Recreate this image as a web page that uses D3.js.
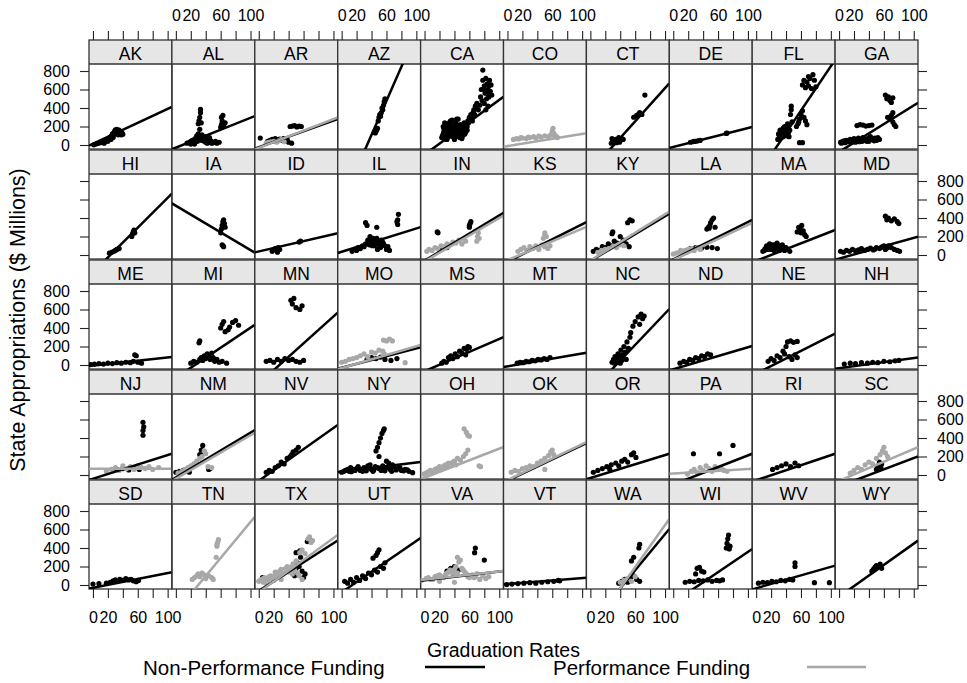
<!DOCTYPE html>
<html><head><meta charset="utf-8">
<script src="https://cdn.jsdelivr.net/npm/d3@7"></script>
<style>body{margin:0;background:#fff}text{font-family:"Liberation Sans",Arial,sans-serif;fill:#000}</style>
</head><body><svg id="c" width="967" height="683"></svg>
<script>
const states = ["AK","AL","AR","AZ","CA","CO","CT","DE","FL","GA",
"HI","IA","ID","IL","IN","KS","KY","LA","MA","MD",
"ME","MI","MN","MO","MS","MT","NC","ND","NE","NH",
"NJ","NM","NV","NY","OH","OK","OR","PA","RI","SC",
"SD","TN","TX","UT","VA","VT","WA","WI","WV","WY"];
const xTicks = [0,20,40,60,80,100];
const xTickLabels = [0,20,60,100];
const yTicks = [0,200,400,600,800];
const xTitle = "Graduation Rates";
const yTitle = "State Appropriations ($ Millions)";
const legendLabels = ["Non-Performance Funding","Performance Funding"];

// regression lines [intercept, slope]
const nonPerfLines = {AK:[13,3.77],AL:[-29,3.23],AR:[-25,2.9],AZ:[-626,18.4],CA:[-104,5.92],CT:[-283,8.98],DE:[-21,2.04],FL:[-348,12.0],GA:[-75,5.03],
HI:[-187,8.04],IA:[533,-4.8],ID:[38,1.86],IL:[35,2.52],IN:[-62,4.91],KS:[-74,4.07],KY:[-65,4.84],LA:[-48,4.05],MA:[-63,3.15],MD:[-39,2.25],
ME:[-6,0.87],MI:[-138,5.42],MN:[-201,7.25],MO:[-30,2.1],MS:[-67,3.49],MT:[-15,1.4],NC:[-292,8.49],ND:[-46,2.38],NE:[-93,4.08],NH:[-34,1.08],
NJ:[-40,2.56],NM:[-27,4.85],NV:[-63,5.71],NY:[37,0.97],OK:[-62,3.85],OR:[-33,2.49],PA:[-103,3.15],RI:[-57,2.71],SC:[-122,3.05],
SD:[-30,1.58],TX:[-64,5.15],UT:[-79,5.56],VA:[50,0.95],VT:[11,0.64],WA:[-426,9.76],WI:[-190,5.48],WV:[-35,2.31],WY:[-127,5.74]};
const perfLines = {AR:[-30,3.1],CO:[-11,1.3],IN:[-70,4.7],KS:[-56,3.4],KY:[-60,5.0],LA:[-55,3.8],MO:[-34,2.36],NJ:[68,0],NM:[-40,4.7],
OH:[-29,3.14],OK:[-55,3.88],PA:[17,0.49],SC:[-63,3.44],TN:[-292,9.74],TX:[-80,5.88],VA:[59,0.87],WA:[-490,11.38]};

const nonPerfPoints = {
AK:[[1,2],[4,10],[7,18],[10,25],[13,30],[16,40],[19,55],[21,70],[23,85],[25,100],[26,120],[27,95],[28,135],[29,150],[30,165],[31,140],[32,170],[33,155],[34,130],[35,160],[36,145],[37,125],[38,110],[39,130],[40,115],[24,60],[20,40],[15,20],[30,120],[34,110],[27,80]],
AL:[[15,20],[18,30],[20,40],[22,50],[25,60],[27,80],[28,100],[30,120],[31,90],[33,70],[35,50],[38,40],[40,30],[42,20],[45,30],[48,20],[50,25],[52,30],[55,20],[58,30],[30,230],[31,260],[32,300],[33,350],[33,385],[34,240],[32,170],[60,190],[61,220],[62,260],[61,300],[63,320],[64,210],[66,240],[35,110],[25,10],[20,10],[45,80],[40,90],[37,60],[43,50],[29,40],[47,45],[53,40]],
AR:[[2,75],[12,40],[15,50],[18,60],[20,45],[22,70],[25,55],[28,65],[30,50],[33,70],[35,40],[38,60],[40,30],[44,20],[42,200],[45,205],[48,210],[51,195],[54,205],[57,200]],
AZ:[[44,140],[45,130],[46,150],[47,165],[48,180],[50,300],[51,330],[52,310],[53,350],[54,400],[55,380],[56,430],[57,470],[58,500],[49,260]],
CA:[[23,80],[25,120],[26,150],[27,90],[28,200],[29,170],[30,110],[31,140],[32,180],[33,220],[34,100],[35,160],[36,130],[37,200],[38,90],[39,150],[40,180],[41,120],[42,240],[43,160],[44,100],[45,140],[46,190],[47,120],[48,160],[49,90],[50,130],[51,170],[52,110],[53,150],[54,200],[55,180],[56,230],[57,200],[58,260],[59,240],[60,300],[61,280],[62,330],[63,310],[64,260],[65,350],[66,380],[67,330],[68,420],[69,400],[70,450],[72,380],[74,430],[75,520],[76,600],[77,480],[78,700],[78,810],[80,640],[81,560],[82,720],[83,500],[84,660],[85,600],[86,520],[87,700],[88,580],[89,650],[90,540],[85,420],[82,380],[80,450],[30,60],[40,60],[50,70],[35,260],[45,280],
 [24,100],[26,180],[28,130],[30,200],[32,90],[34,250],[36,110],[38,170],[40,220],[42,130],[44,190],[46,100],[48,220],[50,150],[52,190],[54,120],[27,240],[33,140],[39,120],[45,210],[51,100],[55,140],[37,270],[43,280],[29,60],[47,80],[25,200],[31,230],[41,90],[53,240],[57,160],[79,600],[84,560],[86,640]],
CT:[[28,20],[30,40],[32,30],[34,60],[36,50],[38,80],[40,45],[42,70],[44,60],[35,25],[29,70],[33,45],[39,30],[58,300],[62,320],[64,330],[66,350],[69,330],[73,540]],
DE:[[23,30],[26,35],[28,40],[30,40],[33,45],[36,50],[71,125],[72,130]],
FL:[[29,60],[31,100],[33,140],[34,80],[36,180],[37,120],[38,200],[39,150],[40,100],[41,170],[42,230],[43,130],[44,90],[45,160],[46,330],[47,380],[47,420],[48,250],[54,200],[56,230],[58,280],[60,330],[62,370],[64,300],[66,260],[68,220],[58,25],[62,25],[62,650],[64,700],[66,620],[68,680],[70,640],[72,720],[74,610],[76,760],[78,700],[80,630],[70,740],[30,120],[32,160],[35,110],[38,170],[41,140],[43,190],[36,90],[57,250],[61,300]],
GA:[[2,30],[5,40],[8,25],[10,50],[12,35],[15,60],[18,40],[20,70],[22,30],[25,55],[28,45],[30,65],[32,80],[35,50],[38,70],[40,40],[42,90],[45,60],[48,75],[50,50],[52,80],[54,60],[24,210],[28,220],[32,215],[36,205],[40,210],[44,215],[62,540],[64,500],[66,520],[68,480],[70,460],[72,510],[65,300],[68,280],[70,320],[72,250],[74,220],[76,200],[72,350],
 [3,20],[7,45],[13,50],[17,30],[23,60],[27,35],[33,60],[37,40],[43,70],[47,45],[53,65],[26,75],[31,40],[41,55]],
HI:[[22,20],[25,30],[28,40],[30,50],[32,60],[35,70],[52,200],[53,230],[54,250],[55,270],[56,240]],
IA:[[60,240],[61,280],[62,320],[63,360],[64,380],[65,340],[66,300],[62,110],[63,100],[64,90]],
ID:[[18,40],[20,60],[22,70],[24,50],[26,80],[28,60],[25,30],[54,140],[56,150]],
IL:[[14,40],[18,60],[20,50],[22,80],[25,70],[28,100],[30,90],[32,120],[35,160],[37,110],[38,200],[40,140],[42,180],[44,100],[46,150],[48,60],[50,120],[52,80],[55,140],[58,100],[60,60],[62,90],[64,50],[32,350],[34,320],[47,300],[75,330],[75,380],[76,440],[74,360],
 [36,130],[39,170],[41,100],[43,160],[45,120],[47,180],[49,140],[51,100],[53,160],[56,120]],
IN:[[17,250],[18,240],[60,300],[61,340],[62,360],[60,320],[20,60],[30,80]],
KY:[[4,40],[8,60],[12,50],[16,90],[20,80],[24,120],[28,100],[32,150],[36,130],[40,200],[44,160],[48,120],[52,90],[50,350],[53,380],[56,370],[29,230],[30,250]],
LA:[[23,70],[30,80],[38,75],[45,85],[52,80],[59,70],[45,280],[47,300],[49,320],[50,350],[52,380],[54,400],[56,300],[48,290]],
MA:[[9,40],[12,70],[14,100],[16,60],[18,120],[20,80],[22,110],[24,50],[26,90],[28,130],[30,70],[32,100],[34,60],[36,90],[38,50],[40,80],[42,60],[45,40],[55,250],[57,300],[59,280],[61,320],[63,260],[65,220],[67,200],[60,240],
 [11,50],[15,80],[19,90],[21,60],[25,110],[27,70],[29,100],[31,50],[33,80],[35,110]],
MD:[[2,40],[6,30],[10,50],[14,40],[18,60],[22,45],[26,55],[30,70],[34,50],[38,60],[42,75],[46,55],[50,80],[54,70],[58,90],[62,60],[66,100],[70,80],[74,60],[78,50],[81,40],[62,420],[64,380],[66,400],[70,370],[74,390],[78,360],[80,340],[48,65],[56,80],[60,100],[64,75],[68,90]],
ME:[[-3,5],[2,10],[8,15],[14,10],[20,20],[26,15],[32,25],[38,20],[44,30],[50,25],[54,40],[56,110],[58,100],[60,30],[65,20]],
MI:[[20,20],[24,40],[28,30],[32,60],[34,80],[36,50],[38,100],[40,70],[42,120],[44,90],[46,60],[48,130],[50,80],[52,40],[55,60],[58,30],[62,40],[68,20],[31,240],[32,260],[60,400],[62,440],[64,470],[70,380],[72,410],[76,460],[80,480],[84,430],[66,360]],
MN:[[10,40],[15,50],[20,30],[25,60],[30,40],[35,70],[40,50],[45,60],[50,40],[55,30],[60,50],[43,700],[45,660],[50,620],[55,600],[58,640],[47,720]],
MO:[[34,60],[40,80],[46,70],[52,86],[58,60],[66,50],[74,70]],
MS:[[23,20],[26,40],[29,30],[32,80],[35,100],[38,70],[41,120],[44,90],[47,150],[50,130],[53,180],[56,170],[58,200],[60,190],[55,110]],
MT:[[13,20],[17,30],[21,25],[25,40],[29,35],[33,50],[37,45],[41,60],[45,55],[49,70],[53,60],[57,80]],
NC:[[29,30],[31,60],[33,90],[35,40],[37,120],[39,80],[41,160],[43,110],[45,200],[47,140],[49,250],[51,180],[53,300],[54,350],[48,60],[40,20],[57,420],[60,470],[64,520],[68,550],[70,500],[72,530],[66,440],[32,20],[36,70],[42,50]],
ND:[[9,20],[14,40],[18,30],[22,60],[26,50],[30,80],[34,70],[38,100],[42,90],[46,120],[50,110]],
NE:[[16,40],[20,70],[24,50],[28,100],[32,80],[36,150],[38,120],[40,200],[44,90],[48,60],[52,110],[55,80],[42,250],[46,260],[50,245],[55,255]],
NH:[[7,10],[15,20],[22,15],[30,25],[38,20],[45,30],[52,25],[60,40],[68,35],[75,45],[80,50]],
NJ:[[32,60],[40,70],[48,55],[56,75],[62,60],[67,430],[67,480],[68,520],[67,570]],
NM:[[0,30],[5,40],[10,50],[15,45],[18,30],[32,220],[34,270],[36,320],[38,250],[44,60],[46,70]],
NV:[[10,30],[14,50],[18,40],[22,80],[26,100],[30,140],[34,120],[38,180],[42,200],[46,250],[50,270],[53,300],[44,220]],
NY:[[0,30],[5,50],[10,40],[15,60],[20,70],[25,50],[30,80],[35,100],[40,60],[45,90],[50,70],[55,100],[60,80],[65,60],[70,90],[75,70],[80,50],[85,60],[90,40],[95,25],[46,260],[48,300],[50,350],[52,400],[54,450],[56,480],[57,500],[50,200],[60,150],[63,130],[12,80],[22,90],[38,110],[68,110],[28,40],[42,40],[58,45],
 [3,40],[8,60],[13,35],[18,50],[23,70],[27,60],[33,45],[37,80],[43,55],[48,80],[53,50],[58,70],[63,90],[67,40],[73,55],[78,80],[83,45],[88,55]],
OR:[[4,30],[10,50],[16,70],[22,90],[28,110],[34,130],[38,100],[42,150],[46,170],[50,140],[55,220],[58,240],[61,190],[26,60]],
PA:[[27,230],[62,230],[80,320]],
RI:[[22,60],[28,80],[34,100],[40,120],[46,90],[52,130],[57,100]],
SC:[[50,60],[52,100],[54,140],[56,80],[57,120]],
SD:[[0,10],[8,15],[18,20],[23,30],[27,45],[30,55],[33,40],[36,60],[40,50],[44,70],[48,55],[51,60],[54,45],[58,35],[61,50]],
TX:[[5,80],[48,100],[50,180],[52,240],[54,200],[56,300],[58,150],[60,80],[62,120],[50,350],[55,370],[65,470],[68,500],[70,480]],
UT:[[4,40],[8,20],[12,60],[16,30],[20,80],[24,50],[28,100],[32,70],[36,130],[40,110],[44,160],[48,140],[52,200],[56,180],[58,240],[42,290],[46,320],[50,380],[48,350]],
VA:[[30,150],[35,180],[40,200],[45,160],[67,350],[68,400],[80,270]],
VT:[[-1,5],[6,10],[14,15],[22,20],[30,25],[38,20],[46,30],[54,35],[62,40],[68,50],[70,45]],
WA:[[38,20],[42,40],[46,60],[50,30],[54,80],[58,100],[62,60],[66,40],[55,260],[58,300],[65,400],[66,440]],
WI:[[16,30],[22,40],[28,35],[34,50],[40,45],[46,55],[52,40],[58,50],[62,45],[66,55],[30,120],[32,180],[35,190],[38,150],[41,140],[71,400],[72,450],[73,500],[74,540],[76,420],[75,390]],
WV:[[3,20],[9,30],[15,25],[21,40],[27,35],[33,50],[39,45],[45,60],[49,55],[52,200],[52,240],[78,25],[98,25]],
WY:[[44,150],[46,170],[48,190],[50,210],[52,200],[55,225],[57,180]]
};
const perfPoints = {
AR:[[10,20],[13,30],[16,35],[20,40],[24,30],[27,45],[30,60],[34,35]],
CO:[[8,60],[12,70],[15,65],[18,80],[20,75],[25,70],[28,85],[30,80],[35,90],[38,75],[42,95],[45,85],[50,100],[55,90],[58,110],[60,150],[61,180],[62,130],[63,100],[65,95],[67,80]],
IN:[[3,40],[6,60],[10,50],[14,80],[18,70],[22,100],[26,90],[30,120],[34,110],[38,140],[42,130],[46,160],[50,120],[55,150],[70,150],[71,200],[72,240],[73,180]],
KS:[[14,40],[18,60],[22,80],[26,50],[30,90],[34,70],[38,100],[42,60],[46,110],[50,90],[54,70],[57,100],[48,180],[50,220],[52,200],[50,240]],
KY:[[10,30],[15,50],[20,60],[25,70],[30,90],[35,80],[40,110],[45,100]],
LA:[[0,10],[4,20],[8,30],[12,40],[16,50],[20,60],[24,70],[28,50],[32,80],[36,60],[10,50],[18,30]],
MO:[[0,30],[5,40],[10,60],[15,70],[20,80],[25,100],[30,120],[35,90],[40,140],[45,130],[50,160],[55,150],[57,120],[56,270],[60,260],[64,280],[68,260],[85,25]],
NJ:[[18,40],[25,60],[30,80],[35,50],[40,100],[45,70],[50,90],[55,60],[60,100],[65,80],[70,70],[75,90],[80,60],[88,80]],
NM:[[3,20],[8,40],[12,60],[16,80],[20,100],[24,120],[28,150],[32,180],[35,200],[38,260],[40,230],[43,90],[48,80]],
OH:[[-1,10],[4,30],[8,50],[12,40],[16,70],[20,90],[24,80],[28,110],[32,130],[36,120],[40,150],[44,180],[48,160],[52,200],[55,230],[58,270],[53,500],[56,460],[58,430],[60,420],[73,100],[75,90],
 [2,20],[6,40],[10,30],[14,60],[18,50],[22,80],[26,100],[30,90],[34,120],[38,140],[42,110]],
OK:[[5,30],[10,50],[15,40],[20,70],[25,80],[30,100],[35,90],[40,130],[45,150],[50,180],[55,210],[58,250],[60,270],[62,220],[50,60]],
PA:[[19,10],[24,40],[28,60],[32,30],[36,80],[40,50],[44,100],[48,70],[52,40],[56,90],[60,60],[64,80],[68,50],[72,40]],
SC:[[15,20],[20,50],[25,80],[30,60],[35,110],[40,140],[45,120],[50,180],[55,220],[58,260],[60,300],[62,240],[65,200]],
TN:[[22,60],[25,80],[28,100],[30,120],[32,90],[35,130],[38,110],[40,70],[44,100],[48,80],[50,60],[54,300],[55,420],[56,460],[57,490],[55,440]],
TX:[[0,40],[4,60],[8,80],[12,50],[16,100],[20,90],[24,120],[28,150],[32,110],[36,180],[40,140],[44,200],[46,230],[48,160],[50,260],[52,130],[54,100],[58,60],[55,350],[58,380],[62,340],[66,500],[68,520],[70,460],[72,480],[10,20],
 [2,50],[6,70],[14,90],[18,60],[22,140],[26,100],[30,170],[34,130],[38,200],[42,160],[45,120],[6,30],[20,50],[30,60]],
VA:[[-4,50],[2,70],[8,60],[14,90],[20,110],[26,80],[30,130],[34,160],[38,120],[42,200],[46,250],[50,180],[54,140],[58,90],[62,100],[66,80],[70,120],[74,60],[78,100],[82,70],[86,90],[44,300],[48,270],[40,30],[20,40],
 [5,80],[11,60],[17,100],[23,90],[28,110],[32,140],[36,150],[40,170],[44,130],[52,160],[56,120],[60,80],[64,110],[68,90]],
WA:[[40,30],[45,50],[50,70],[55,40],[60,90]]
};

const W = 967, H = 683;
const gridLeft = 89, gridTop = 40, colW = 82.9, rowH = 110, stripH = 24, panelH = 85;
const nCols = 10, nRows = 5;
const svg = d3.select("#c");
svg.append("rect").attr("width",W).attr("height",H).attr("fill","#fff");
const x = d3.scaleLinear().domain([-5.3,105.7]).range([0,colW]);
const y = d3.scaleLinear().domain([-43.2,875.7]).range([panelH,0]);
const black = "#000", gray = "#a8a8a8", border = "#333";

svg.append("defs").append("clipPath").attr("id","pc")
  .append("rect").attr("x",0).attr("y",0).attr("width",colW).attr("height",panelH);

const lineGen = d3.line().x(d=>x(d[0])).y(d=>y(d[1]));

states.forEach((s,i)=>{
  const c = i % nCols, r = Math.floor(i / nCols);
  const gx = gridLeft + c*colW, sy = gridTop + r*rowH, py = sy + stripH;
  const g = svg.append("g").attr("transform",`translate(${gx},${sy})`);
  g.append("rect").attr("width",colW).attr("height",stripH).attr("fill","#e6e6e6");
  g.append("text").attr("x",colW/2).attr("y",19.5).attr("text-anchor","middle")
    .attr("font-size",17.5).text(s);
  const p = svg.append("g").attr("transform",`translate(${gx},${py})`);
  const pc = p.append("g").attr("clip-path","url(#pc)");
  const np = nonPerfPoints[s] || [], pf = perfPoints[s] || [];
  pc.selectAll("circle.np").data(np).join("circle").attr("class","np")
    .attr("cx",d=>x(d[0])).attr("cy",d=>y(d[1])).attr("r",2.6).attr("fill",black);
  pc.selectAll("circle.pf").data(pf).join("circle").attr("class","pf")
    .attr("cx",d=>x(d[0])).attr("cy",d=>y(d[1])).attr("r",2.6).attr("fill",gray);
  const dom = x.domain();
  [[nonPerfLines[s],black],[perfLines[s],gray]].forEach(([ln,col])=>{
    if(!ln) return;
    const pts = dom.map(v=>[v, ln[0]+ln[1]*v]);
    pc.append("path").attr("d",lineGen(pts)).attr("fill","none").attr("stroke",col).attr("stroke-width",2.5);
  });
  g.append("rect").attr("width",colW).attr("height",stripH+panelH).attr("fill","none").attr("stroke",border).attr("stroke-width",1.3);
  g.append("line").attr("x1",0).attr("x2",colW).attr("y1",stripH).attr("y2",stripH).attr("stroke",border).attr("stroke-width",1.3);

  const fmt = show => d => (show && xTickLabels.includes(d)) ? d : "";
  if(r === 0){
    styleAxis(svg.append("g").attr("transform",`translate(${gx},${sy})`)
      .call(d3.axisTop(x).tickValues(xTicks).tickSize(9).tickPadding(10).tickFormat(fmt(c%2===1))));
  }
  if(r === nRows-1){
    styleAxis(svg.append("g").attr("transform",`translate(${gx},${py+panelH})`)
      .call(d3.axisBottom(x).tickValues(xTicks).tickSize(9).tickPadding(14).tickFormat(fmt(c%2===0))));
  }
  if(c === 0){
    styleAxis(svg.append("g").attr("transform",`translate(${gx},${py})`)
      .call(d3.axisLeft(y).tickValues(yTicks).tickSize(9).tickPadding(10).tickFormat(d => r%2===0 ? d : "")));
  }
  if(c === nCols-1){
    styleAxis(svg.append("g").attr("transform",`translate(${gx+colW},${py})`)
      .call(d3.axisRight(y).tickValues(yTicks).tickSize(9).tickPadding(10).tickFormat(d => r%2===1 ? d : "")));
  }
});
function styleAxis(a){
  a.select(".domain").remove();
  a.selectAll(".tick line").attr("stroke","#222").attr("stroke-width",1.1);
  a.selectAll(".tick text").attr("font-size",16).attr("font-family","Liberation Sans, Arial, sans-serif").attr("fill","#000");
}

const gridMidX = gridLeft + nCols*colW/2;
svg.append("text").attr("x",gridMidX).attr("y",657).attr("text-anchor","middle").attr("font-size",19.5).text(xTitle);
svg.append("text").attr("transform",`translate(25,320) rotate(-90)`)
  .attr("text-anchor","middle").attr("font-size",21.5).text(yTitle);

svg.append("text").attr("x",143).attr("y",675).attr("font-size",20.5).text(legendLabels[0]);
svg.append("line").attr("x1",425).attr("x2",485).attr("y1",667).attr("y2",667).attr("stroke",black).attr("stroke-width",2.5);
svg.append("text").attr("x",553).attr("y",675).attr("font-size",20.5).text(legendLabels[1]);
svg.append("line").attr("x1",807).attr("x2",866).attr("y1",667).attr("y2",667).attr("stroke",gray).attr("stroke-width",2.5);
</script></body></html>
